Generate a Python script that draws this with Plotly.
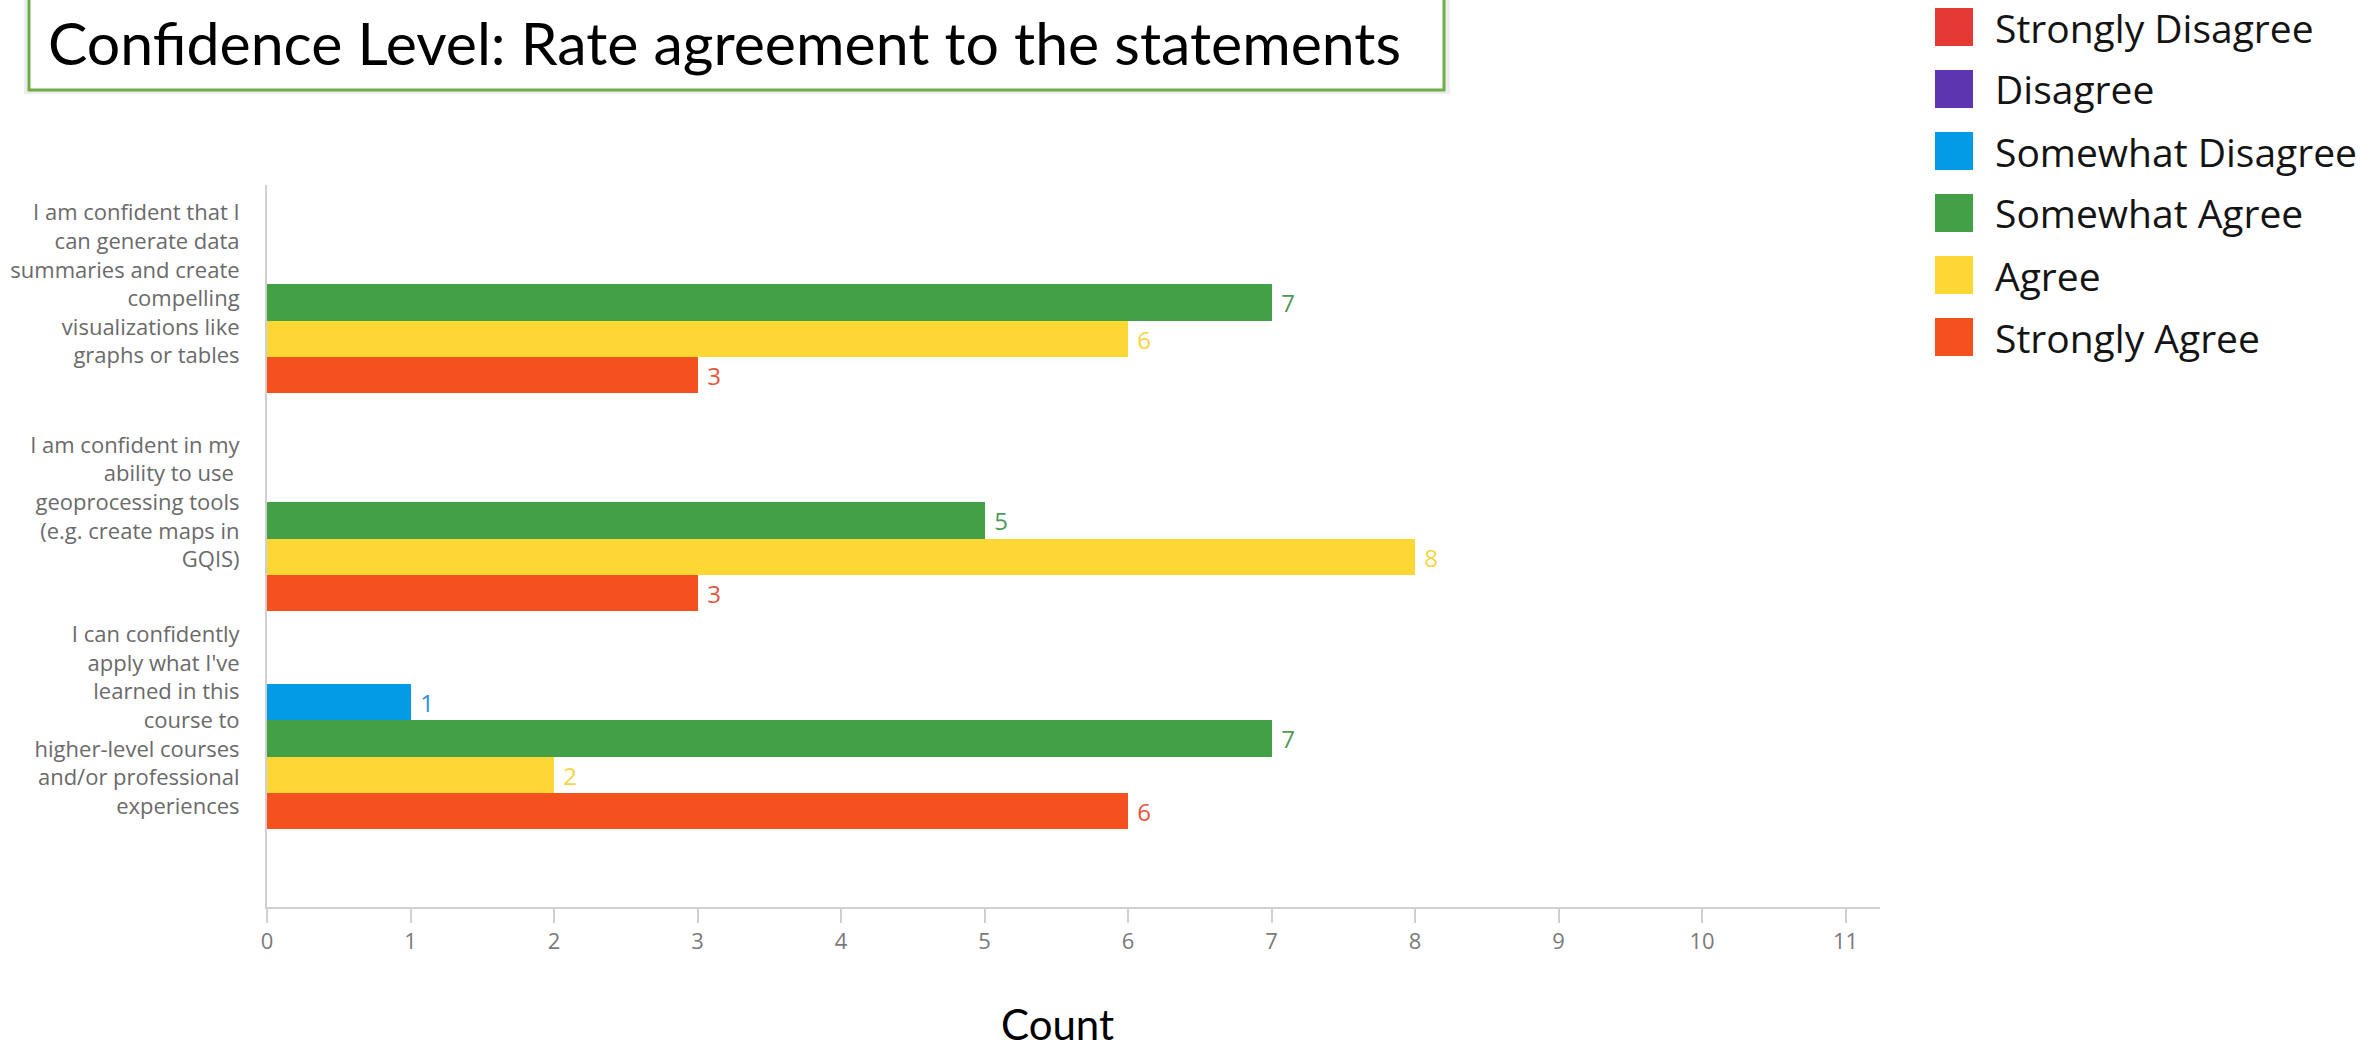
import plotly.graph_objects as go

# ---------------- data ----------------
statements = [
    "I am confident that I<br>can generate data<br>summaries and create<br>compelling<br>visualizations like<br>graphs or tables",
    "I am confident in my<br>ability to use <br>geoprocessing tools<br>(e.g. create maps in<br>GQIS)",
    "I can confidently<br>apply what I've<br>learned in this<br>course to<br>higher-level courses<br>and/or professional<br>experiences",
]
series_names = ["Strongly Disagree", "Disagree", "Somewhat Disagree",
                "Somewhat Agree", "Agree", "Strongly Agree"]
strongly_disagree = [None, None, None]
disagree = [None, None, None]
somewhat_disagree = [None, None, 1]
somewhat_agree = [7, 5, 7]
agree = [6, 8, 2]
strongly_agree = [3, 3, 6]
series_values = [strongly_disagree, disagree, somewhat_disagree,
                 somewhat_agree, agree, strongly_agree]
bar_colors = ["#e53935", "#5e35b1", "#039be5", "#43a047", "#fdd835", "#f4511e"]
label_colors = ["#e53935", "#5e35b1", "#2b8fd6", "#4f9a55", "#f7d345", "#e8553a"]
x_ticks = list(range(0, 12))
title_text = "Confidence Level: Rate agreement to the statements"
x_title = "Count"

# ---------------- layout geometry (pixels) ----------------
W, H = 2379, 1055
L, R, T, B = 267, 1880, 185, 907


def px(x):
    return (x - L) / (R - L)


def py(y):
    return (B - y) / (B - T)


fig = go.Figure()
for name, vals, col, lcol in zip(series_names, series_values, bar_colors, label_colors):
    fig.add_trace(go.Bar(
        y=statements, x=vals, name=name, orientation="h",
        marker=dict(color=col, line=dict(width=0)),
        texttemplate="\u00a0%{x}", textposition="outside",
        textfont=dict(family="Open Sans", size=24, color=lcol),
        cliponaxis=False, showlegend=False,
    ))

shapes = []
annotations = []

# title box with soft shadow
shapes.append(dict(type="rect", xref="paper", yref="paper",
                   x0=px(24), x1=px(1450), y0=py(94), y1=py(-6),
                   line=dict(width=0), fillcolor="rgba(0,0,0,0.07)", layer="below"))
shapes.append(dict(type="rect", xref="paper", yref="paper",
                   x0=px(29), x1=px(1444), y0=py(90), y1=py(-6),
                   line=dict(color="#70ad47", width=3), fillcolor="white", layer="below"))
annotations.append(dict(text=title_text, xref="paper", yref="paper",
                        x=px(46), y=py(42), xanchor="left", yanchor="middle",
                        showarrow=False,
                        font=dict(family="Lato", size=59, color="#000000")))

# manual legend
for i, (name, col) in enumerate(zip(series_names, bar_colors)):
    cy = 27 + 62 * i
    shapes.append(dict(type="rect", xref="paper", yref="paper",
                       x0=px(1935), x1=px(1973), y0=py(cy + 19), y1=py(cy - 19),
                       line=dict(width=0), fillcolor=col))
    annotations.append(dict(text=name, xref="paper", yref="paper",
                            x=px(1993), y=py(cy), xanchor="left", yanchor="middle",
                            showarrow=False,
                            font=dict(family="Open Sans", size=39, color="#141414")))

# x-axis title
annotations.append(dict(text=x_title, xref="paper", yref="paper",
                        x=px(1057), y=py(1024), xanchor="center", yanchor="middle",
                        showarrow=False,
                        font=dict(family="Lato", size=42, color="#000000")))

fig.update_layout(
    width=W, height=H,
    margin=dict(l=L, r=W - R, t=T, b=H - B, pad=0, autoexpand=False),
    paper_bgcolor="white", plot_bgcolor="white",
    barmode="group", bargap=0, bargroupgap=0,
    showlegend=False,
    shapes=shapes, annotations=annotations,
    xaxis=dict(range=[0, 11.24], tickmode="array", tickvals=x_ticks,
               ticktext=[str(t) for t in x_ticks],
               showgrid=False, zeroline=False, automargin=False,
               showline=True, linecolor="#d0d0d0", linewidth=2,
               ticks="outside", ticklen=14, tickwidth=2, tickcolor="#d0d0d0",
               tickfont=dict(family="Open Sans", size=22, color="#7a7a7a")),
    yaxis=dict(type="category", range=[2.856, -0.455],
               showgrid=False, zeroline=False, automargin=False,
               showline=True, linecolor="#d0d0d0", linewidth=2,
               ticks="", ticklabelstandoff=21,
               tickfont=dict(family="Open Sans", size=22, color="#6a6a6a")),
)

fig.write_html("out.html")
